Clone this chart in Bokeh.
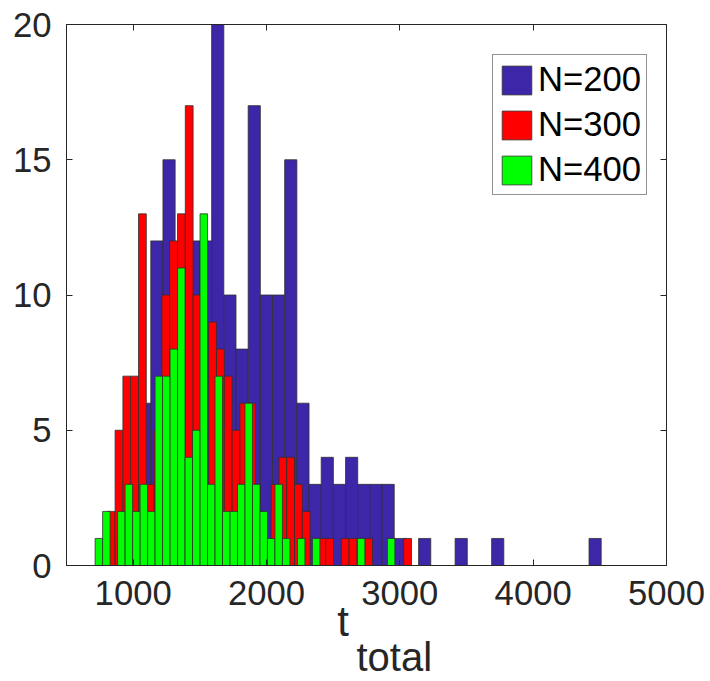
import numpy as np
from bokeh.plotting import figure
from bokeh.models import Range1d, LinearAxis, FixedTicker, CustomJSTickFormatter
from bokeh.embed import file_html
from bokeh.resources import INLINE

# ---- data ----
series_labels = ["N=200", "N=300", "N=400"]
x_ticks = [1000, 2000, 3000, 4000, 5000]
y_ticks = [0, 5, 10, 15, 20]

n200_bin_start = 858.2
n200_bin_width = 91.3
n200_counts = [1, 3, 6, 12, 15, 11, 12, 12, 20, 10, 8, 17, 10, 10, 15, 6, 3, 4, 3, 4,
               3, 3, 3, 1, 0, 1, 0, 0, 1, 0, 0, 1, 0, 0, 0, 0, 0, 0, 0, 1]

n300_bin_start = 806.0
n300_bin_width = 58.5
n300_counts = [2, 5, 7, 7, 13, 3, 5, 10, 12, 13, 17, 10, 2, 9, 8, 7, 5, 6, 6, 2,
               1, 3, 4, 4, 3, 2, 0, 1, 1, 0, 1, 1, 0, 1, 0, 0, 0, 0, 1]

n400_bin_start = 714.7
n400_bin_width = 56.2
n400_counts = [1, 2, 0, 2, 3, 2, 3, 2, 7, 7, 8, 11, 4, 5, 13, 3, 7, 2, 2, 3,
               6, 3, 2, 1, 3, 1, 0, 1, 0, 1, 0, 0, 0, 0, 0, 1, 0, 0, 0, 1]

x_title_main = "t"
x_title_sub = "total"

colors = ["#3E26A8", "#FF0000", "#00FF00"]
AX = "#262626"
FONT = "Liberation Sans"
FS = "34.67px"
NBSP = "\u00a0"

p = figure(width=710, height=681, output_backend="svg", toolbar_location=None,
           x_range=Range1d(500, 5000), y_range=Range1d(0, 20),
           min_border_left=66, min_border_right=44, min_border_top=24, min_border_bottom=115)
p.background_fill_color = "white"
p.border_fill_color = "white"
p.grid.visible = False
p.outline_line_color = AX
p.outline_line_width = 1

series = [(n200_bin_start, n200_bin_width, n200_counts),
          (n300_bin_start, n300_bin_width, n300_counts),
          (n400_bin_start, n400_bin_width, n400_counts)]
for (start, w, counts), col, lab in zip(series, colors, series_labels):
    c = np.array(counts, dtype=float)
    left = start + w * np.arange(len(c))
    right = left + w
    p.quad(left=left, right=right, bottom=0, top=c, fill_color=col, line_color="#303030",
           line_width=0.8, legend_label=lab)

def style_axis(ax, show_labels=True):
    ax.axis_line_color = AX
    ax.major_tick_line_color = AX
    ax.major_tick_in = 6
    ax.major_tick_out = 0
    ax.minor_tick_line_color = None
    ax.major_label_text_font = FONT
    ax.major_label_text_color = AX
    if show_labels:
        ax.major_label_text_font_size = FS
    else:
        ax.major_label_text_font_size = "0px"
        ax.major_label_standoff = 0
        ax.formatter = CustomJSTickFormatter(code="return ''")

p.xaxis.ticker = FixedTicker(ticks=x_ticks)
p.yaxis.ticker = FixedTicker(ticks=y_ticks)
style_axis(p.xaxis[0])
style_axis(p.yaxis[0])
p.xaxis.major_label_standoff = 15
p.yaxis.major_label_standoff = 15

# x title main part "t" as the axis label (shifted left with trailing no-break spaces)
xa = p.xaxis[0]
xa.axis_label = x_title_main + NBSP * 4
xa.axis_label_text_font = FONT
xa.axis_label_text_font_size = "42px"
xa.axis_label_text_font_style = "normal"
xa.axis_label_text_color = AX
xa.axis_label_standoff = -10

# subscript "total" as the label of a bare second axis below
sub_ax = LinearAxis(ticker=FixedTicker(ticks=[]))
sub_ax.axis_line_color = None
sub_ax.major_tick_line_color = None
sub_ax.minor_tick_line_color = None
sub_ax.major_tick_in = 0
sub_ax.major_tick_out = 0
sub_ax.major_label_text_font_size = "0px"
sub_ax.major_label_standoff = 0
sub_ax.axis_label = NBSP * 5 + x_title_sub
sub_ax.axis_label_text_font = FONT
sub_ax.axis_label_text_font_size = "40px"
sub_ax.axis_label_text_font_style = "normal"
sub_ax.axis_label_text_color = AX
sub_ax.axis_label_standoff = -13
p.add_layout(sub_ax, "below")

top_ax = LinearAxis(ticker=FixedTicker(ticks=x_ticks))
style_axis(top_ax, show_labels=False)
p.add_layout(top_ax, "above")
right_ax = LinearAxis(ticker=FixedTicker(ticks=y_ticks))
style_axis(right_ax, show_labels=False)
p.add_layout(right_ax, "right")

lg = p.legend[0]
lg.location = (426, 370)
lg.label_text_font = FONT
lg.label_text_font_size = FS
lg.label_text_color = "black"
lg.glyph_width = 37
lg.glyph_height = 36
lg.spacing = 6
lg.padding = 5
lg.margin = 0
lg.label_standoff = 3
lg.border_line_color = AX
lg.border_line_width = 1
lg.background_fill_alpha = 1

open("out.html", "w").write(file_html(p, INLINE))
